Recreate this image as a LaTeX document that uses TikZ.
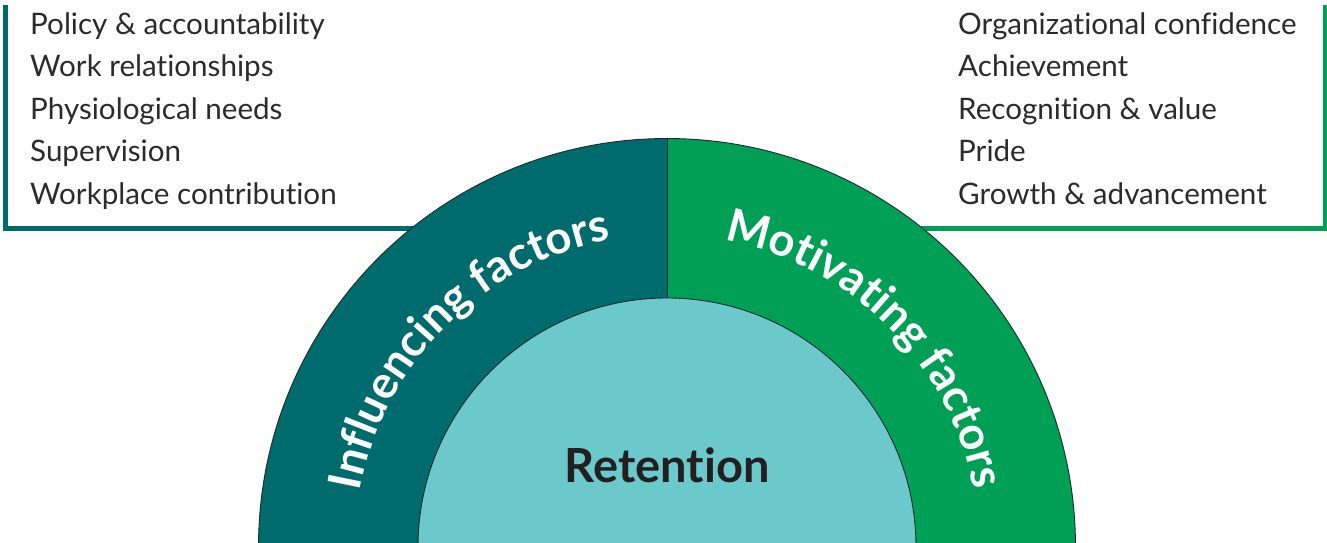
\documentclass[tikz,border=0pt]{standalone}
\usepackage{fontspec}
\setmainfont{Lato}[Ligatures=CommonOff]
\usetikzlibrary{decorations.text}
\definecolor{inflfill}{HTML}{006B6C}
\definecolor{motifill}{HTML}{009F56}
\definecolor{corefill}{HTML}{6CC9CB}
\definecolor{itemtext}{HTML}{2B2B2B}
\definecolor{coretext}{HTML}{231F20}
\definecolor{edgeline}{HTML}{1E2B2B}

\newcommand{\listfont}{\fontsize{29.6}{34}\selectfont}
\newcommand{\ringfont}{\fontsize{45.5}{52}\selectfont\bfseries}

\begin{document}
\begin{tikzpicture}[
    x=1pt, y=1pt,
    item/.style={anchor=base west, font=\listfont, text=itemtext, inner sep=0pt},
    bracket/.style={line width=5pt},
    ringedge/.style={draw=edgeline, line width=0.9pt},
    ringlabel/.style={decorate, decoration={text along path, text align=center,
                      text color=white, text={|\ringfont|#1}}},
]
\useasboundingbox (0,-543) rectangle (1327,0);
\coordinate (ctr) at (667,-547);

% ---- brackets behind the ring ----------------------------------------------
\coordinate (lt) at (5.5,-5);
\coordinate (rt) at (1325,-5);
\draw[bracket, inflfill] (lt) |- (ctr |- 0,-228);
\draw[bracket, motifill] (rt) |- (ctr |- 0,-228);

% ---- factor lists -------------------------------------------------------------
\node[item] (i1) at (30,-35)  {Policy \& accountability};
\node[item] (i2) at (30,-77)  {Work relationships};
\node[item] (i3) at (30,-119) {Physiological needs};
\node[item] (i4) at (30,-161) {Supervision};
\node[item] (i5) at (30,-204) {Workplace contribution};

\node[item] (m1) at (958,-35)  {Organizational confidence};
\node[item] (m2) at (958,-77)  {Achievement};
\node[item] (m3) at (958,-119) {Recognition \& value};
\node[item] (m4) at (958,-161) {Pride};
\node[item] (m5) at (958,-204) {Growth \& advancement};

% ---- ring halves ---------------------------------------------------------------
\fill[inflfill] (ctr) -- ++(180:408.5) arc[start angle=180, end angle=90, radius=408.5] -- cycle;
\fill[motifill] (ctr) -- ++(90:408.5) arc[start angle=90, end angle=0, radius=408.5] -- cycle;
\draw[ringedge] (ctr) ++(180:408.5) arc[start angle=180, end angle=0, radius=408.5];
\draw[ringedge] (ctr) ++(0,249) -- ++(0,159.5);

% ---- core ------------------------------------------------------------------------
\filldraw[fill=corefill, ringedge] (ctr) circle[radius=249];
\node[font=\fontsize{47}{54}\selectfont\bfseries, text=coretext, anchor=base]
    (core) at (667,-482) {Retention};

% ---- curved labels -------------------------------------------------------------
\path[ringlabel={Influencing factors}]
    (ctr) ++(180:312) arc[start angle=180, end angle=90, radius=312];
\path[ringlabel={Motivating factors}]
    (ctr) ++(90:312) arc[start angle=90, end angle=0, radius=312];

\end{tikzpicture}
\end{document}
